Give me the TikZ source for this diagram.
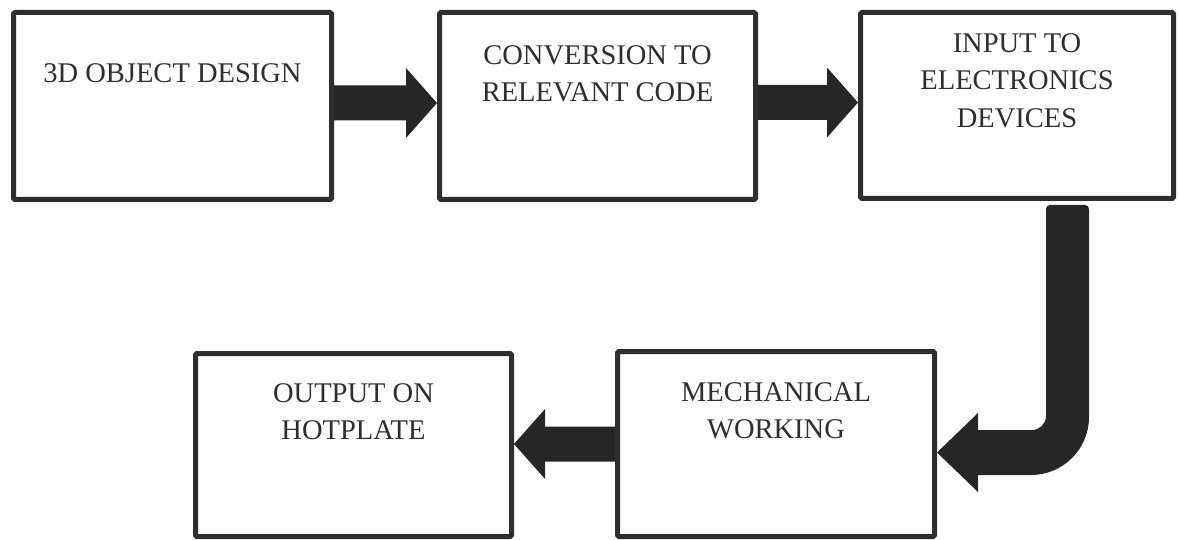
\documentclass[tikz,border=0pt]{standalone}
\usepackage{fontspec}
\setmainfont{Liberation Serif}
\usetikzlibrary{calc}

\definecolor{ink}{HTML}{2E2E2E}
\definecolor{arrowink}{HTML}{262626}

\tikzset{
  box/.style={draw=ink, line width=5pt, rectangle, rounded corners=1.5pt,
    inner sep=0pt, fill=white},
  lbl/.style={anchor=north, inner sep=0pt, align=center, text=ink,
    font=\fontsize{28.5}{37.5}\selectfont},
  blk/.style={fill=arrowink},
}

% horizontal block arrow: #1 = tail point, #2 = tip point, #3 = +1 (right) or -1 (left)
\newcommand\hblock[3]{%
  \fill[blk] let \p1=(#1), \p2=(#2), \n1={#3*31pt} in
    (\x1,\y2+17.5pt) -- (\x2-\n1,\y2+17.5pt) -- (\x2-\n1,\y2+35pt) --
    (\x2,\y2) --
    (\x2-\n1,\y2-35pt) -- (\x2-\n1,\y2-17.5pt) -- (\x1,\y2-17.5pt) -- cycle;}

\begin{document}
\begin{tikzpicture}[x=1pt,y=-1pt]
  \useasboundingbox (0,0) rectangle (1179,540);

  % process blocks
  \node[box, minimum width=318pt, minimum height=187pt] (b1) at (172.5,106) {};
  \node[box, minimum width=316pt, minimum height=187pt] (b2) at (597.5,106) {};
  \node[box, minimum width=313pt, minimum height=186pt] (b3) at (1017,105.5) {};
  \node[box, minimum width=317pt, minimum height=185pt] (b4) at (776,444) {};
  \node[box, minimum width=316pt, minimum height=183pt] (b5) at (353.5,445) {};

  % block captions
  \node[lbl] (t1) at ($(b1.north)+(0,53)$) {3D OBJECT DESIGN};
  \node[lbl] (t2) at ($(b2.north)+(0,35)$) {CONVERSION TO\\RELEVANT CODE};
  \node[lbl] (t3) at ($(b3.north)+(0,23)$) {INPUT TO\\ELECTRONICS\\DEVICES};
  \node[lbl] (t4) at ($(b4.north)+(0,33)$) {MECHANICAL\\WORKING};
  \node[lbl] (t5) at ($(b5.north)+(0,32)$) {OUTPUT ON\\HOTPLATE};

  % straight block arrows
  \coordinate (tip12) at ($(b2.west)+(0,-3)$);
  \hblock{b1.east}{tip12}{1}
  \coordinate (tip23) at ($(b3.west)+(0,-3)$);
  \hblock{b2.east}{tip23}{1}
  \coordinate (tip45) at (b5.east |- b4.west);
  \hblock{b4.west}{tip45}{-1}

  % bent block arrow from the third block down to the mechanical block
  \coordinate (jtop) at ($(b3.south)+(50.5,4)$);
  \coordinate (jtip) at ($(b4.east)+(0,8.5)$);
  \fill[blk] let \p1=(jtop), \p2=(jtip) in
    (\x1,\y1) [rounded corners=4pt] -- (\x1-21.5pt,\y1) -- (\x1-21.5pt,\y1-40pt)
    [sharp corners] -- (\x1-21.5pt,\y2+22.5pt+14pt)
    arc[start angle=0, end angle=-90, radius=14pt]
    -- (\x2+41pt,\y2+22.5pt) -- (\x2+41pt,\y2+39.5pt) -- (\x2,\y2)
    -- (\x2+41pt,\y2-39.5pt) -- (\x2+41pt,\y2-22.5pt)
    -- (\x1+21.5pt-58pt,\y2-22.5pt)
    arc[start angle=-90, end angle=0, radius=58pt]
    -- (\x1+21.5pt,\y1-40pt) [rounded corners=4pt] -- (\x1+21.5pt,\y1) -- cycle;
\end{tikzpicture}
\end{document}
